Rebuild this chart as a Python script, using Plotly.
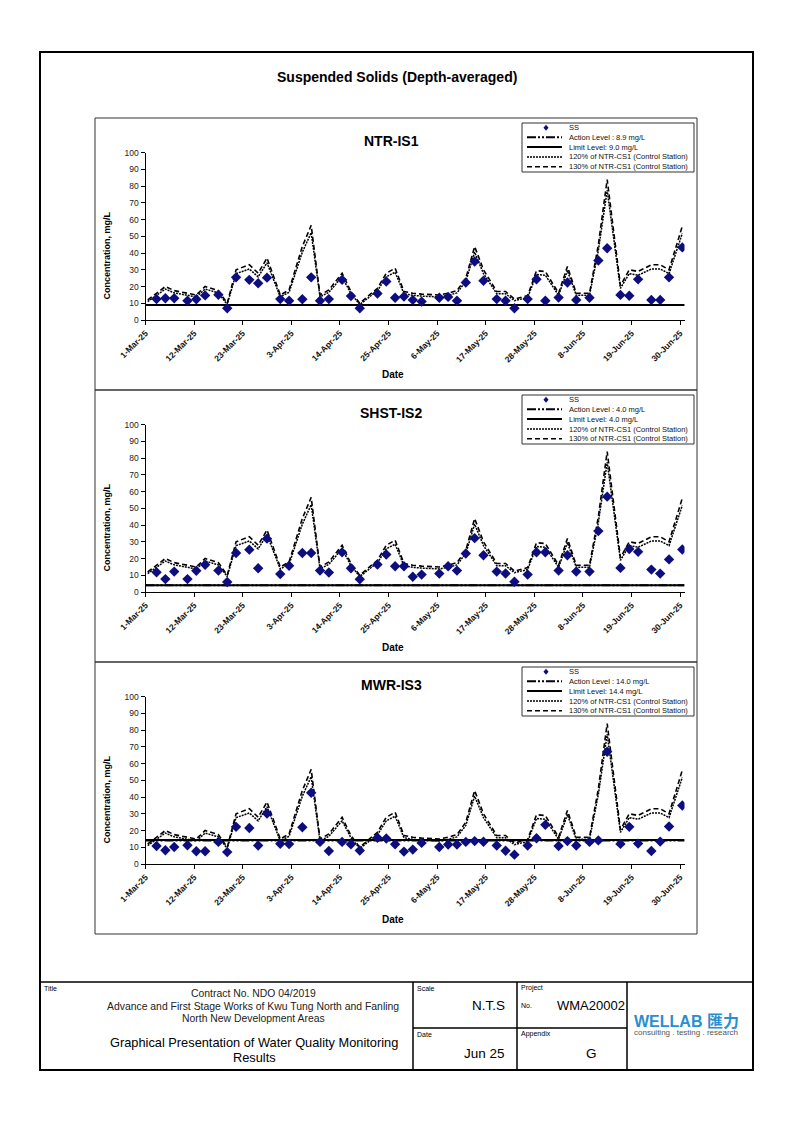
import plotly.graph_objects as go
import pandas as pd

# ---------------- data ----------------
sample_dates = ["2025-03-03", "2025-03-05", "2025-03-07", "2025-03-10", "2025-03-12", "2025-03-14",
                "2025-03-17", "2025-03-19", "2025-03-21", "2025-03-24", "2025-03-26", "2025-03-28",
                "2025-03-31", "2025-04-02", "2025-04-05", "2025-04-07", "2025-04-09", "2025-04-11",
                "2025-04-14", "2025-04-16", "2025-04-18", "2025-04-22", "2025-04-24", "2025-04-26",
                "2025-04-28", "2025-04-30", "2025-05-02", "2025-05-06", "2025-05-08", "2025-05-10",
                "2025-05-12", "2025-05-14", "2025-05-16", "2025-05-19", "2025-05-21", "2025-05-23",
                "2025-05-26", "2025-05-28", "2025-05-30", "2025-06-02", "2025-06-04", "2025-06-06",
                "2025-06-09", "2025-06-11", "2025-06-13", "2025-06-16", "2025-06-18", "2025-06-20",
                "2025-06-23", "2025-06-25", "2025-06-27", "2025-06-30"]

ss_ntr_is1 = [12.5, 13, 13, 11.5, 12.4, 14.7, 15.1, 7, 25.5, 24, 22, 25.3,
              12.5, 11.5, 12.4, 25.5, 11.5, 12.5, 24, 14.3, 7, 15.8, 23, 13.3,
              14, 12, 11, 13.3, 13.8, 11.5, 22.4, 35, 23.5, 12.5, 11.5, 7,
              12.5, 24.4, 11.5, 13.4, 22.4, 12, 13.3, 35.6, 42.9, 15, 14.5, 24.3,
              12, 12, 25.5, 43.4]

ss_shst_is2 = [11.8, 7.7, 12.2, 7.7, 12.7, 16.3, 12.8, 6, 23.3, 25.3, 14.2, 31.9,
               10.7, 15.7, 23.3, 23.3, 12.8, 11.7, 23.7, 14.2, 7.6, 16.4, 22.4, 15.4,
               15.4, 9.1, 10.4, 11, 15.4, 12.8, 23, 32.2, 22, 12.2, 11.1, 6.1,
               10.4, 23.8, 23.8, 12.8, 22, 12.2, 12.2, 36.4, 57, 14.4, 25.7, 24,
               13.4, 11, 19.5, 25.4]

ss_mwr_is3 = [10.8, 8.2, 10.2, 11.2, 7.6, 7.6, 13.2, 7.1, 22.2, 21.5, 11.1, 30.2,
              12.1, 11.9, 22, 42.6, 13.2, 7.8, 13.2, 11.8, 8.1, 15.7, 15.2, 11.8,
              7.4, 8.6, 12.6, 10.2, 11.7, 11.7, 13.2, 13.7, 13.3, 11.1, 7.9, 5.6,
              11.1, 15.4, 23.4, 10.8, 13.7, 11.1, 13.2, 14.1, 67.1, 12, 22.2, 12.2,
              7.8, 13.4, 22.4, 35]

# NTR-CS1 (control station) values, first one on 1-Mar
ctrl_dates = ["2025-03-01"] + sample_dates
ntr_cs1 = [9.2, 12.3, 15.4, 13.5, 12.3, 11.5, 15.4, 13.5, 7.7, 23.1, 25.4, 21.5, 28.5,
           11.5, 13.8, 33.8, 43.5, 11.5, 13.8, 21.5, 13.1, 7.7, 14.6, 21.5, 23.8,
           13.1, 12.3, 11.9, 11.5, 12.3, 13.5, 19.2, 33.8, 23.1, 13.1, 13.1, 9.6,
           11.2, 22.7, 22.3, 12.3, 24.6, 12.3, 12.3, 34.6, 64.6, 15.8, 23.1, 22.3,
           25.4, 25.4, 23.1, 43.1]

stations = ["NTR-IS1", "SHST-IS2", "MWR-IS3"]
ss_values = [ss_ntr_is1, ss_shst_is2, ss_mwr_is3]
action_levels = [8.9, 4.0, 14.0]
limit_levels = [9.0, 4.0, 14.4]
action_labels = ["Action Level : 8.9 mg/L", "Action Level : 4.0 mg/L", "Action Level : 14.0 mg/L"]
limit_labels = ["Limit Level: 9.0 mg/L", "Limit Level: 4.0 mg/L", "Limit Level: 14.4 mg/L"]
level_span = ["2025-03-01", "2025-07-01"]

# ---------------- layout helpers ----------------
W, H = 794, 1123
FONT = "Arial, 'Liberation Sans', sans-serif"


def px(x):
    return x / W


def py(y):
    return 1 - y / H


half_day = pd.Timedelta(hours=12)
sx = pd.to_datetime(sample_dates) + half_day
cx = pd.to_datetime(ctrl_dates) + half_day
ctrl120 = [v * 1.2 for v in ntr_cs1]
ctrl130 = [v * 1.3 for v in ntr_cs1]

fig = go.Figure()
shapes = []
annotations = []
layout_axes = {}

ACTION_DASH = "9px,2px,2px,2px,2px,2px"
DOT_DASH = "2px,1px"
DASH_DASH = "5px,3px"


def txt(s, x, y, size, anchor="center", color="black", weight="normal", family=FONT, angle=0):
    annotations.append(dict(text=s, x=px(x), y=py(y), xref="paper", yref="paper", xanchor=anchor,
                            yanchor="middle", showarrow=False, textangle=angle,
                            font=dict(family=family, size=size, color=color, weight=weight)))


for i, name in enumerate(stations):
    T = 118 + 272 * i
    sfx = "" if i == 0 else str(i + 1)
    xr, yr = "x" + sfx, "y" + sfx

    fig.add_trace(go.Scatter(x=pd.to_datetime(level_span), y=[action_levels[i]] * 2, mode="lines",
                             line=dict(color="black", width=2, dash=ACTION_DASH),
                             xaxis=xr, yaxis=yr, showlegend=False, hoverinfo="skip"))
    fig.add_trace(go.Scatter(x=pd.to_datetime(level_span), y=[limit_levels[i]] * 2, mode="lines",
                             line=dict(color="black", width=2),
                             xaxis=xr, yaxis=yr, showlegend=False, hoverinfo="skip"))
    fig.add_trace(go.Scatter(x=cx, y=ctrl120, mode="lines",
                             line=dict(color="black", width=1.5, dash=DOT_DASH),
                             xaxis=xr, yaxis=yr, showlegend=False))
    fig.add_trace(go.Scatter(x=cx, y=ctrl130, mode="lines",
                             line=dict(color="black", width=1.6, dash=DASH_DASH),
                             xaxis=xr, yaxis=yr, showlegend=False))
    fig.add_trace(go.Scatter(x=sx, y=ss_values[i], mode="markers",
                             marker=dict(symbol="diamond", size=8, color="#0d0d80"),
                             xaxis=xr, yaxis=yr, showlegend=False))

    layout_axes["xaxis" + sfx] = dict(
        domain=[px(145.5), px(684.5)], anchor=yr, type="date", automargin=False,
        range=level_span, tick0="2025-03-01", dtick=11 * 86400000,
        tickformat="%-d-%b-%y", tickangle=-45,
        tickfont=dict(family=FONT, size=8.5, color="#111", weight="bold"),
        showline=True, linecolor="black", linewidth=1, ticks="outside", ticklen=4,
        tickcolor="black", showgrid=False, zeroline=False)
    layout_axes["yaxis" + sfx] = dict(
        domain=[py(T + 202), py(T + 34.7)], anchor=xr, range=[0, 100], dtick=10,
        automargin=False,
        tickfont=dict(family=FONT, size=8.5, color="#222"),
        showline=True, linecolor="black", linewidth=1, ticks="outside", ticklen=4,
        tickcolor="black", showgrid=False, zeroline=False)

    shapes.append(dict(type="rect", xref="paper", yref="paper", x0=px(95), x1=px(697),
                       y0=py(T + 272), y1=py(T), line=dict(color="#333", width=1)))
    txt(name, 391, T + 23, 14, weight="bold")
    txt("Date", 393, T + 257, 10, weight="bold")
    txt("Concentration, mg/L", 106.5, T + 138, 9, weight="bold", angle=-90)

    # legend (drawn manually)
    shapes.append(dict(type="rect", xref="paper", yref="paper", x0=px(522), x1=px(694),
                       y0=py(T + 54), y1=py(T + 5), line=dict(color="#333", width=1),
                       fillcolor="white"))
    rows = [T + 9.7, T + 19.3, T + 29, T + 39, T + 48.7]
    cxm, cym, d = 546, rows[0], 3.0
    shapes.append(dict(type="path", xref="paper", yref="paper",
                       path=f"M {px(cxm)},{py(cym - d)} L {px(cxm + d * 0.85)},{py(cym)} "
                            f"L {px(cxm)},{py(cym + d)} L {px(cxm - d * 0.85)},{py(cym)} Z",
                       fillcolor="#0d0d80", line=dict(width=0)))
    styles = [dict(width=2, dash=ACTION_DASH), dict(width=2),
              dict(width=1.5, dash=DOT_DASH), dict(width=1.6, dash=DASH_DASH)]
    for r, st in zip(rows[1:], styles):
        shapes.append(dict(type="line", xref="paper", yref="paper", x0=px(527), x1=px(562),
                           y0=py(r), y1=py(r), line=dict(color="black", **st)))
    labels = ["SS", action_labels[i], limit_labels[i],
              "120% of NTR-CS1 (Control Station)", "130% of NTR-CS1 (Control Station)"]
    for r, lab in zip(rows, labels):
        txt(lab, 567, r, 7.5, anchor="left", color="#111")

# page frame and main title
shapes.append(dict(type="rect", xref="paper", yref="paper", x0=px(40), x1=px(753),
                   y0=py(1070), y1=py(52), line=dict(color="black", width=2)))
txt("Suspended Solids (Depth-averaged)", 397, 77, 14, weight="bold")


def hline(x0, x1, y, w=1.5):
    shapes.append(dict(type="line", xref="paper", yref="paper", x0=px(x0), x1=px(x1),
                       y0=py(y), y1=py(y), line=dict(color="black", width=w)))


def vline(x, y0, y1, w=1.5):
    shapes.append(dict(type="line", xref="paper", yref="paper", x0=px(x), x1=px(x),
                       y0=py(y0), y1=py(y1), line=dict(color="black", width=w)))


hline(40, 753, 982)
hline(413, 627, 1028)
for xv in (413, 517, 627):
    vline(xv, 982, 1070)

txt("Title", 42, 988, 7, "left")
txt("Contract No. NDO 04/2019", 253, 994, 10.4, color="#222")
txt("Advance and First Stage Works of Kwu Tung North and Fanling", 253, 1006, 10.4, color="#222")
txt("North New Development Areas", 253, 1018, 10.4, color="#222")
txt("Graphical Presentation of Water Quality Monitoring", 254, 1042, 12.8)
txt("Results", 254, 1057, 12.8)
txt("Scale", 415, 988, 7, "left")
txt("N.T.S", 488, 1005, 13.5)
txt("Date", 415, 1034, 7, "left")
txt("Jun 25", 484, 1053, 13.5)
txt("Project", 519, 988, 7, "left")
txt("No.", 519, 1005, 7, "left")
txt("WMA20002", 591, 1005, 13)
txt("Appendix", 519, 1034, 7, "left")
txt("G", 591, 1053, 13.5)
txt("WELLAB 匯力", 686, 1021, 16, color="#2a8fd0", weight="bold",
    family="Arial, 'Liberation Sans', 'Noto Sans CJK TC', sans-serif")
txt("consulting . testing . research", 686, 1032, 8, color="#555")

fig.update_layout(width=W, height=H, margin=dict(l=0, r=0, t=0, b=0, pad=0),
                  paper_bgcolor="white", plot_bgcolor="white", showlegend=False,
                  shapes=shapes, annotations=annotations, **layout_axes)

fig.write_html("out.html", config={"displayModeBar": False},
               post_script="document.body.style.margin='0';")
